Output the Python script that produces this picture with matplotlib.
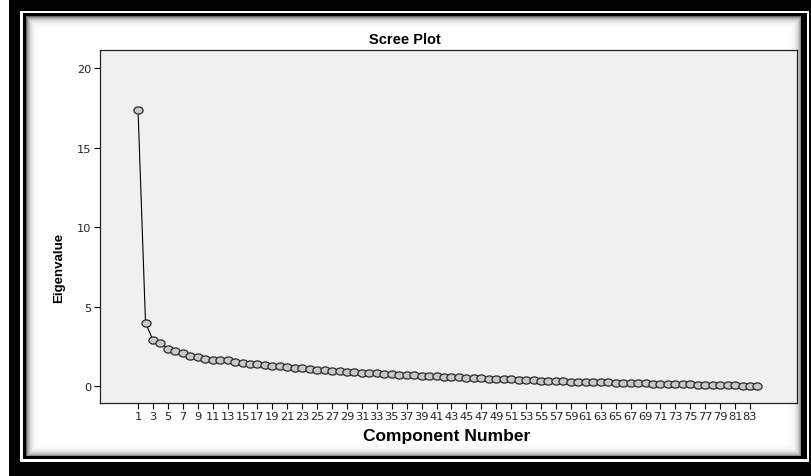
import numpy as np
import matplotlib.pyplot as plt
from matplotlib.path import Path

# Eigenvalues (components 1..84)
eigenvalues = [17.35, 4.00, 2.90, 2.75, 2.35, 2.20, 2.07, 1.92, 1.82, 1.72,
               1.68, 1.66, 1.64, 1.52, 1.46, 1.43, 1.39, 1.34, 1.30, 1.25,
               1.21, 1.16, 1.12, 1.08, 1.04, 1.00, 0.97, 0.94, 0.91, 0.88,
               0.86, 0.83, 0.81, 0.78, 0.76, 0.73, 0.71, 0.69, 0.67, 0.65,
               0.62, 0.60, 0.58, 0.56, 0.54, 0.52, 0.50, 0.48, 0.47, 0.45,
               0.43, 0.41, 0.40, 0.38, 0.36, 0.35, 0.33, 0.32, 0.30, 0.29,
               0.27, 0.26, 0.25, 0.24, 0.22, 0.21, 0.20, 0.19, 0.18, 0.17,
               0.16, 0.15, 0.14, 0.13, 0.12, 0.11, 0.10, 0.09, 0.08, 0.07,
               0.06, 0.05, 0.04, 0.03]
components = list(range(1, len(eigenvalues) + 1))
xticks = list(range(1, len(eigenvalues) + 1, 2))
yticks = [0, 5, 10, 15, 20]

W, H = 812, 477
fig = plt.figure(figsize=(W / 100, H / 100), dpi=100)

# framed background (black border, white line, black line, bevelled panel)
img = np.ones((H, W))
img[0:H, 9:W] = 0.0
img[12:463, 20:809] = 1.0
img[14:460, 23:807] = 0.0
yy, xx = np.mgrid[0:H, 0:W]
px0, px1, py0, py1 = 26, 801, 17, 457
d = np.minimum.reduce([xx - px0, px1 - xx, yy - py0, py1 - yy]).astype(float)
panel = (xx >= px0) & (xx < px1) & (yy >= py0) & (yy < py1)
img[panel] = 1.0 - 0.6 * np.exp(-d[panel] / 3.0)
bg = fig.add_axes([0, 0, 1, 1], zorder=0)
bg.imshow(img, cmap='gray', vmin=0, vmax=1, aspect='auto', interpolation='bilinear')
bg.axis('off')

# slightly flattened circle marker, like the SPSS one
t = np.linspace(0, 2 * np.pi, 40)
oval = Path(np.column_stack([np.cos(t), 0.78 * np.sin(t)]), closed=True)

# plot area
ax = fig.add_axes([100 / W, 1 - 404 / H, 697 / W, 353 / H], zorder=1)
ax.set_facecolor('#f0f0f0')
ax.plot(components, eigenvalues, color='black', linewidth=0.8,
        marker=oval, markersize=6.6, markerfacecolor='#c8c8c8',
        markeredgecolor='#2a2a2a', markeredgewidth=0.9)

ax.set_xlim(-4.1, 89.3)
ax.set_ylim(-1.05, 21.15)
ax.set_xticks(xticks)
ax.set_xticklabels([str(t) for t in xticks], fontsize=8.2, family='DejaVu Sans', color='#222222')
ax.set_yticks(yticks)
ax.set_yticklabels([str(t) for t in yticks], fontsize=8.2, family='DejaVu Sans', color='#222222')
ax.tick_params(direction='out', length=4.5, width=0.8, pad=1.5)
for s in ax.spines.values():
    s.set_linewidth(0.9)
    s.set_color('#222222')

fig.text(405 / W, 1 - 40 / H, 'Scree Plot', ha='center', va='center',
         fontsize=10.5, fontweight='bold', family='Liberation Sans')
fig.text(447 / W, 1 - 437 / H, 'Component Number', ha='center', va='center',
         fontsize=12.5, fontweight='bold', family='Liberation Sans')
fig.text(59 / W, 1 - 268 / H, 'Eigenvalue', ha='center', va='center', rotation=90,
         fontsize=9.5, fontweight='bold', family='Liberation Sans')

fig.savefig('out.png', dpi=100)
